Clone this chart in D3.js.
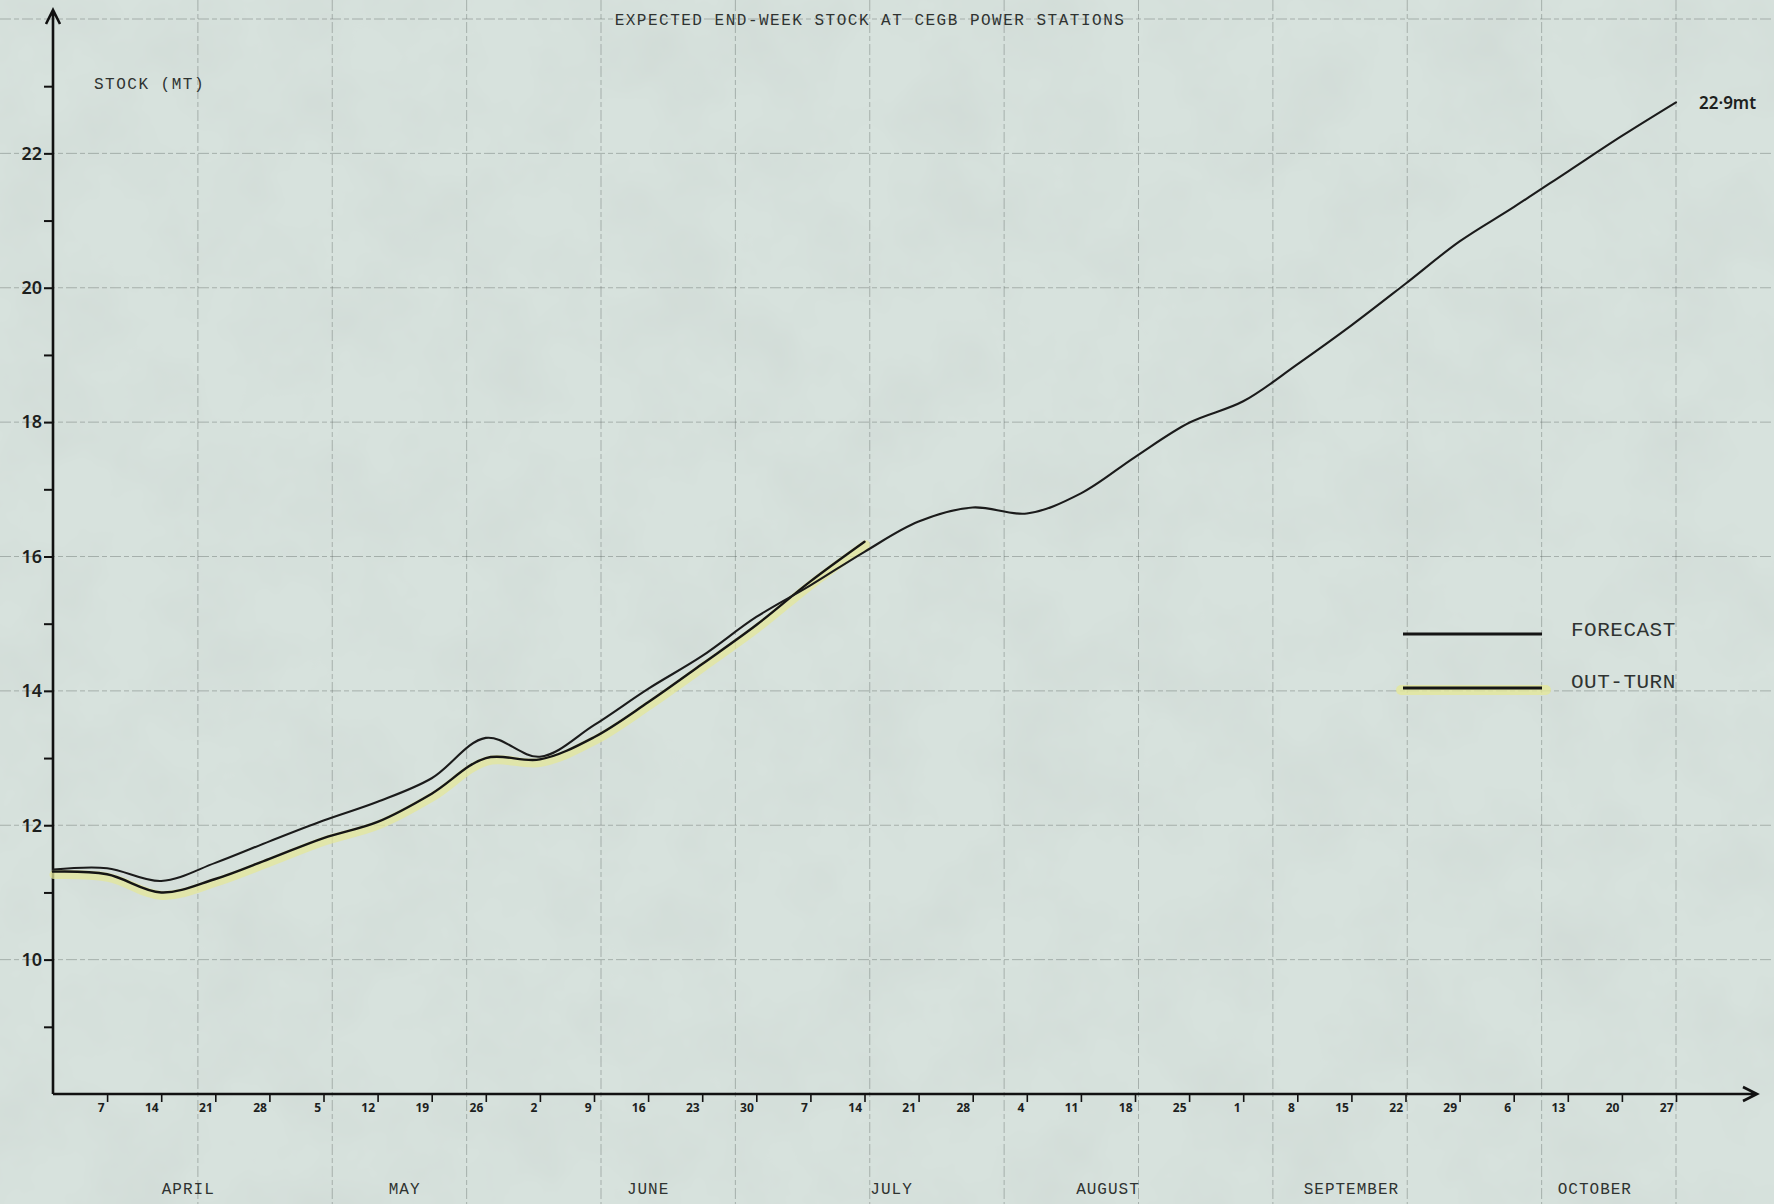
<!DOCTYPE html>
<html lang="en">
<head>
<meta charset="UTF-8" />
<title>Expected End-Week Stock at CEGB Power Stations</title>
<script src="https://cdn.jsdelivr.net/npm/d3@7"></script>
<style>
  body { margin: 0; background: #d7e2dd; overflow: hidden; }
  svg { display: block; }
  .type { font-family: "Liberation Mono", "DejaVu Sans Mono", monospace; fill: #2f3331; }
  .hand { font-family: "Noto Sans", "DejaVu Sans", sans-serif; fill: #1d1f1e; font-weight: 600; }
</style>
</head>
<body>
<svg id="chart" width="1774" height="1204"></svg>
<script>
// week 0 = end of March, weeks 1..30 = Apr 7 .. Oct 27
const weekLabels = ["7","14","21","28","5","12","19","26","2","9","16","23","30",
  "7","14","21","28","4","11","18","25","1","8","15","22","29","6","13","20","27"];
const monthNames = ["APRIL","MAY","JUNE","JULY","AUGUST","SEPTEMBER","OCTOBER"];
const monthFirstWeek = [1, 5, 9, 14, 18, 22, 27];
const monthLastWeek = [4, 8, 13, 17, 21, 26, 30];

// stock, million tonnes
const forecast = [11.34, 11.36, 11.17, 11.44, 11.76, 12.07, 12.35, 12.70, 13.30, 13.02,
  13.49, 14.03, 14.52, 15.10, 15.57, 16.07, 16.52, 16.73, 16.64, 16.94,
  17.48, 17.99, 18.31, 18.86, 19.44, 20.06, 20.69, 21.20, 21.73, 22.26, 22.76];
const outTurn = [11.31, 11.27, 11.00, 11.20, 11.50, 11.81, 12.05, 12.47, 13.00, 12.98,
  13.31, 13.83, 14.40, 14.98, 15.63, 16.22];

const yLabels = [10, 12, 14, 16, 18, 20, 22];
const yMinor = [9, 11, 13, 15, 17, 19, 21, 23];
const endLabel = "22\u00b79mt";

const W = 1774, H = 1204;
const svg = d3.select("#chart");

const x = d3.scaleLinear().domain([0, 30]).range([53, 1676]);
const y = d3.scaleLinear().domain([8, 24]).range([1094, 19]);

// paper
const defs = svg.append("defs");
const f = defs.append("filter").attr("id", "paper").attr("x", 0).attr("y", 0).attr("width", 1).attr("height", 1);
f.append("feTurbulence").attr("type", "fractalNoise").attr("baseFrequency", "0.011").attr("numOctaves", 4).attr("seed", 7);
f.append("feColorMatrix").attr("type", "matrix")
  .attr("values", "0 0 0 0 0.55  0 0 0 0 0.6  0 0 0 0 0.58  0.5 0 0 0 -0.18");
svg.append("rect").attr("width", W).attr("height", H).attr("fill", "#d7e2dd");
svg.append("rect").attr("width", W).attr("height", H).attr("filter", "url(#paper)");

// graph paper grid
const step = y(8) - y(10);
const grid = svg.append("g").attr("stroke", "#3e4744").attr("stroke-opacity", 0.32)
  .attr("stroke-width", 1).attr("stroke-dasharray", "11 3 5 3");
d3.range(10, 25, 2).forEach(v => {
  grid.append("line").attr("x1", 0).attr("x2", W).attr("y1", y(v)).attr("y2", y(v));
});
d3.range(0, 12).forEach(k => {
  const gx = x(30) - k * step;
  grid.append("line").attr("x1", gx).attr("x2", gx).attr("y1", 0).attr("y2", H);
});

// title and labels
svg.append("text").attr("class", "type").attr("x", 870).attr("y", 25)
  .attr("text-anchor", "middle").style("font-size", "16px").style("letter-spacing", "1.5px")
  .text("EXPECTED END-WEEK STOCK AT CEGB POWER STATIONS");
svg.append("text").attr("class", "type").attr("x", 94).attr("y", 89)
  .style("font-size", "16px").style("letter-spacing", "1.5px").text("STOCK (MT)");

// y axis
const yAxis = svg.append("g").attr("transform", `translate(${x(0)},0)`)
  .call(d3.axisLeft(y).tickValues(yLabels.concat(yMinor)).tickSize(9)
    .tickFormat(d => yLabels.includes(d) ? d : ""));
yAxis.select(".domain").remove();
yAxis.selectAll(".tick line").attr("stroke", "#111").attr("stroke-width", 2);
yAxis.selectAll(".tick text").attr("class", "hand").attr("x", -11)
  .style("font-size", "18px").attr("fill", null);

// x axis
const xAxis = svg.append("g").attr("transform", `translate(0,${y(8)})`)
  .call(d3.axisBottom(x).tickValues(d3.range(1, 31)).tickSize(8)
    .tickFormat(d => weekLabels[d - 1]));
xAxis.select(".domain").remove();
xAxis.selectAll(".tick line").attr("stroke", "#111").attr("stroke-width", 1.6);
xAxis.selectAll(".tick text").attr("class", "hand").attr("text-anchor", "end")
  .attr("x", -3).attr("y", 9).attr("dy", "0.71em")
  .style("font-size", "12px").style("font-weight", 700).attr("fill", null);

// axis lines with arrows
const axisG = svg.append("g").attr("stroke", "#111").attr("stroke-width", 2.6).attr("fill", "none");
axisG.append("path").attr("d", `M${x(0)},${y(8)}V10M${x(0) - 7},24L${x(0)},10L${x(0) + 7},24`);
axisG.append("path").attr("d", `M${x(0)},${y(8)}H1757M1743,${y(8) - 7}L1757,${y(8)}L1743,${y(8) + 7}`);

// month names
monthNames.forEach((m, i) => {
  svg.append("text").attr("class", "type")
    .attr("x", x((monthFirstWeek[i] + monthLastWeek[i]) / 2)).attr("y", 1194)
    .attr("text-anchor", "middle").style("font-size", "16px").style("letter-spacing", "1px")
    .text(m);
});

// lines
const line = d3.line().x((d, i) => x(i)).y(d => y(d)).curve(d3.curveCatmullRom.alpha(0.5));
svg.append("path").datum(outTurn).attr("d", line).attr("fill", "none")
  .attr("stroke", "#e4e79a").attr("stroke-width", 9).attr("stroke-opacity", 0.75)
  .attr("stroke-linecap", "round").attr("transform", "translate(1,3)");
svg.append("path").datum(outTurn).attr("d", line).attr("fill", "none")
  .attr("stroke", "#151515").attr("stroke-width", 2.4).attr("stroke-linecap", "round");
svg.append("path").datum(forecast).attr("d", line).attr("fill", "none")
  .attr("stroke", "#1b1b1b").attr("stroke-width", 2.1).attr("stroke-linecap", "round");

svg.append("text").attr("class", "hand").attr("x", x(30) + 23).attr("y", y(forecast[30]) + 7)
  .style("font-size", "17px").text(endLabel);

// legend
const leg = svg.append("g");
leg.append("line").attr("x1", 1403).attr("x2", 1542).attr("y1", 634).attr("y2", 634)
  .attr("stroke", "#151515").attr("stroke-width", 3);
leg.append("line").attr("x1", 1401).attr("x2", 1546).attr("y1", 690).attr("y2", 690)
  .attr("stroke", "#e4e79a").attr("stroke-width", 10).attr("stroke-opacity", 0.8).attr("stroke-linecap", "round");
leg.append("line").attr("x1", 1403).attr("x2", 1542).attr("y1", 688).attr("y2", 688)
  .attr("stroke", "#151515").attr("stroke-width", 3);
leg.append("text").attr("class", "type").attr("x", 1571).attr("y", 636)
  .style("font-size", "21px").style("letter-spacing", "0.5px").attr("fill", "#222").text("FORECAST");
leg.append("text").attr("class", "type").attr("x", 1571).attr("y", 688)
  .style("font-size", "21px").style("letter-spacing", "0.5px").attr("fill", "#222").text("OUT-TURN");
</script>
</body>
</html>
